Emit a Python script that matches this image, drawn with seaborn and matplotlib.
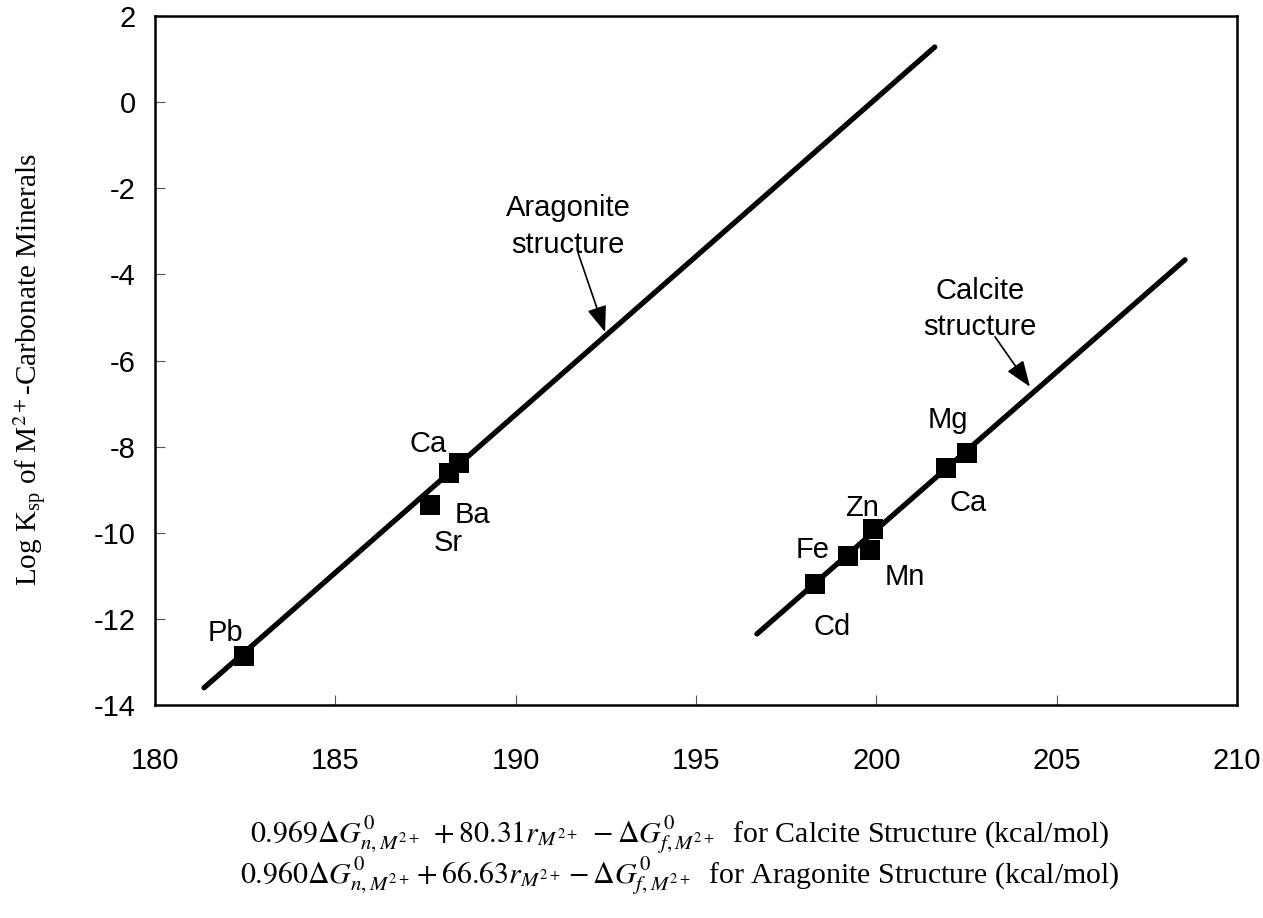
import matplotlib
matplotlib.use("Agg")
import matplotlib.pyplot as plt
import seaborn as sns
import pandas as pd

# ---- data ----
arag_names = ["Pb", "Sr", "Ca", "Ba"]
arag_x = [182.47, 187.62, 188.43, 188.15]
arag_y = [-12.86, -9.35, -8.38, -8.61]
arag_label_x = [181.94, 188.12, 187.57, 188.79]
arag_label_y = [-12.32, -10.23, -7.93, -9.58]

calc_names = ["Cd", "Fe", "Mn", "Zn", "Ca", "Mg"]
calc_x = [198.30, 199.21, 199.82, 199.90, 201.93, 202.51]
calc_y = [-11.18, -10.53, -10.40, -9.91, -8.49, -8.14]
calc_label_x = [198.77, 198.24, 200.79, 199.60, 202.54, 201.99]
calc_label_y = [-12.18, -10.40, -11.02, -9.42, -9.30, -7.38]

arag_line_x = [181.36, 201.62]
arag_line_y = [-13.60, 1.28]
calc_line_x = [196.69, 208.56]
calc_line_y = [-12.35, -3.66]

x_ticks = [180, 185, 190, 195, 200, 205, 210]
y_ticks = [-14, -12, -10, -8, -6, -4, -2, 0, 2]

# ---- styling ----
sns.set_theme(style="white")
plt.rcParams["font.family"] = ["Liberation Sans", "DejaVu Sans"]
plt.rcParams["axes.unicode_minus"] = False
plt.rcParams["mathtext.fontset"] = "stix"
plt.rcParams["text.color"] = "black"

fig = plt.figure(figsize=(12.63, 9.18), dpi=100)
ax = fig.add_axes([155 / 1263, 1 - 705 / 918, (1237 - 155) / 1263, (705 - 16) / 918])

lines_df = pd.DataFrame({
    "x": arag_line_x + calc_line_x,
    "y": arag_line_y + calc_line_y,
    "grp": ["arag"] * 2 + ["calc"] * 2,
})
sns.lineplot(data=lines_df, x="x", y="y", units="grp", estimator=None, sort=False,
             color="black", linewidth=3.8, ax=ax, zorder=2, legend=False)

pts_df = pd.DataFrame({"x": arag_x + calc_x, "y": arag_y + calc_y})
sns.scatterplot(data=pts_df, x="x", y="y", marker="s", s=215, color="black",
                linewidth=0, ax=ax, zorder=3, legend=False)

for n, lx, ly in zip(arag_names + calc_names, arag_label_x + calc_label_x,
                     arag_label_y + calc_label_y):
    ax.text(lx, ly, n, ha="center", va="center", fontsize=21, color="black")

ax.text(191.45, -2.89, "Aragonite\nstructure", ha="center", va="center",
        fontsize=21, linespacing=1.38, color="black")
ax.text(202.87, -4.80, "Calcite\nstructure", ha="center", va="center",
        fontsize=21, linespacing=1.38, color="black")

arrow = dict(arrowstyle="-|>,head_length=0.8,head_width=0.3", color="black",
             lw=1.2, mutation_scale=20, shrinkA=0, shrinkB=0)
ax.annotate("", xy=(192.48, -5.34), xytext=(191.73, -3.50), arrowprops=arrow)
ax.annotate("", xy=(204.26, -6.61), xytext=(203.29, -5.45), arrowprops=arrow)

ax.set_xlim(180, 210)
ax.set_ylim(-14, 2)
ax.set_xticks(x_ticks)
ax.set_yticks(y_ticks)
ax.set_xticklabels([str(t) for t in x_ticks])
ax.set_yticklabels([str(t) for t in y_ticks])
ax.tick_params(axis="x", direction="in", length=7, width=0.8, pad=30,
               labelsize=21, colors="#555555", labelcolor="black")
ax.tick_params(axis="y", direction="in", length=7, width=0.8, pad=14,
               labelsize=21, colors="#555555", labelcolor="black")
ax.tick_params(bottom=True, left=True)
for sp in ax.spines.values():
    sp.set_visible(True)
    sp.set_color("black")
    sp.set_linewidth(1.8)
ax.set_xlabel("")
ax.set_ylabel("")

serif = ["Liberation Serif", "DejaVu Serif"]
fig.text(30 / 1263, 1 - 370 / 918, r"Log K$_{\mathregular{sp}}$ of M$^{2+}$-Carbonate Minerals",
         rotation=90, ha="center", va="center", fontsize=21, family=serif, color="black")

fig.text(680 / 1263, 1 - 835 / 918,
         r"$0.969\Delta G^{0}_{n,M^{2+}}\ +80.31r_{M^{2+}}\ -\Delta G^{0}_{f,M^{2+}}$  for Calcite Structure (kcal/mol)",
         ha="center", va="center", fontsize=21.5, family=serif, color="black")
fig.text(680 / 1263, 1 - 876 / 918,
         r"$0.960\Delta G^{0}_{n,M^{2+}}+66.63r_{M^{2+}}-\Delta G^{0}_{f,M^{2+}}$  for Aragonite Structure (kcal/mol)",
         ha="center", va="center", fontsize=21.5, family=serif, color="black")

fig.savefig("out.png", dpi=100, facecolor="white")
